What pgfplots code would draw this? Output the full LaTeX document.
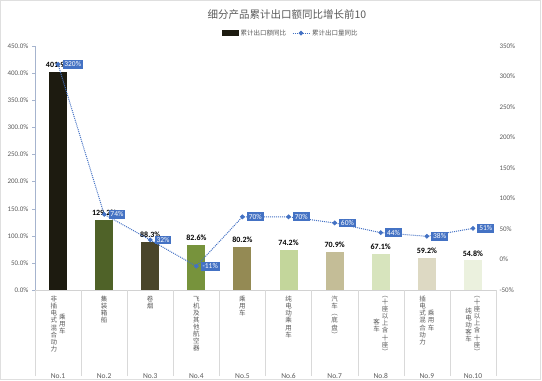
\documentclass[border=0pt]{standalone}
\usepackage{fontspec}
\setmainfont{Carlito}
\newfontfamily\cjk{Noto Sans CJK SC}
\usepackage{pgfplots}
\pgfplotsset{compat=1.18}

\definecolor{c1}{HTML}{1D1B10}
\definecolor{c2}{HTML}{4F6228}
\definecolor{c3}{HTML}{4A452A}
\definecolor{c4}{HTML}{77933C}
\definecolor{c5}{HTML}{948A54}
\definecolor{c6}{HTML}{C3D69B}
\definecolor{c7}{HTML}{C4BD97}
\definecolor{c8}{HTML}{D7E4BD}
\definecolor{c9}{HTML}{DDD9C3}
\definecolor{c10}{HTML}{EBF1DE}
\definecolor{lineblue}{HTML}{4472C4}
\definecolor{axblue}{HTML}{A6B4CE}
\definecolor{txtgray}{HTML}{595959}

\def\vcolA#1{\ifx\relax#1\else\hbox to 7pt{\hss#1\hss}\expandafter\vcolA\fi}
\protected\def\vcol#1{\vbox{\baselineskip=7.1pt\lineskiplimit=-20pt\lineskip=0pt\vcolA#1\relax}}
\protected\def\labA#1#2{\vbox to 82pt{\cjk\fontsize{6.5}{7}\selectfont\color{txtgray}\hbox to 40pt{\hss\vcol{#1}\hss}\vfill\hbox to 40pt{\hss\normalfont\fontsize{7.5}{8}\selectfont\color{txtgray}#2\hss}}}
\protected\def\labB#1#2#3{\vbox to 82pt{\cjk\fontsize{6.5}{7}\selectfont\color{txtgray}\hbox to 40pt{\hss$\vcenter{\vcol{#1}}$\kern1.5pt$\vcenter{\vcol{#2}}$\hss}\vfill\hbox to 40pt{\hss\normalfont\fontsize{7.5}{8}\selectfont\color{txtgray}#3\hss}}}

\begin{document}
\begin{tikzpicture}
\useasboundingbox (0,0) rectangle (542pt,381pt);
\draw[gray!25] (0.5pt,1.5pt) rectangle (540.5pt,380.5pt);
\node[font=\cjk\fontsize{10.5}{12}\selectfont, text=txtgray] at (287pt,366pt) {细分产品累计出口额同比增长前10};

\begin{axis}[
  at={(35pt,91pt)}, anchor=south west,
  scale only axis, width=461pt, height=244pt,
  xmin=0.5, xmax=10.5, ymin=0, ymax=450,
  axis lines*=left, axis line style={-},
  x axis line style={draw=gray!35},
  y axis line style={draw=axblue},
  ytick={0,50,...,450},
  yticklabel={\pgfmathprintnumber[fixed,fixed zerofill,precision=1]{\tick}\%},
  yticklabel style={font=\fontsize{7}{8}\selectfont, text=txtgray, /pgf/number format/assume math mode=true},
  tick align=outside, major tick length=3pt,
  ytick style={draw=axblue},
  xtick={1,...,10},
  xtick style={draw=none},
  xticklabel style={anchor=north, inner sep=0pt, yshift=-3pt},
  xticklabels={
    {\labB{非插电式混合动力}{乘用车}{No.1}},
    {\labA{集装箱船}{No.2}},
    {\labA{卷烟}{No.3}},
    {\labA{飞机及其他航空器}{No.4}},
    {\labA{乘用车}{No.5}},
    {\labA{纯电动乘用车}{No.6}},
    {\labA{汽车︵底盘︶}{No.7}},
    {\labB{客车}{︵十座以上含十座︶}{No.8}},
    {\labB{插电式混合动力}{乘用车}{No.9}},
    {\labB{纯电动客车}{︵十座以上含十座︶}{No.10}}},
  extra x ticks={0.5,1.5,...,10.5},
  extra x tick labels={},
  extra x tick style={major tick length=86pt, tick align=outside, xtick style={draw=gray!30, thin}},
  nodes near coords, point meta=explicit symbolic,
  nodes near coords style={font=\bfseries\fontsize{8}{9}\selectfont, text=black, inner sep=0pt, yshift=4pt},
  clip=false,
]
\addplot[ybar, bar width=18pt, bar shift=0pt, fill=c1, draw=none] coordinates {(1,401.9) [401.9\%]};
\addplot[ybar, bar width=18pt, bar shift=0pt, fill=c2, draw=none] coordinates {(2,129.2) [129.2\%]};
\addplot[ybar, bar width=18pt, bar shift=0pt, fill=c3, draw=none] coordinates {(3,88.3) [88.3\%]};
\addplot[ybar, bar width=18pt, bar shift=0pt, fill=c4, draw=none] coordinates {(4,82.6) [82.6\%]};
\addplot[ybar, bar width=18pt, bar shift=0pt, fill=c5, draw=none] coordinates {(5,80.2) [80.2\%]};
\addplot[ybar, bar width=18pt, bar shift=0pt, fill=c6, draw=none] coordinates {(6,74.2) [74.2\%]};
\addplot[ybar, bar width=18pt, bar shift=0pt, fill=c7, draw=none] coordinates {(7,70.9) [70.9\%]};
\addplot[ybar, bar width=18pt, bar shift=0pt, fill=c8, draw=none] coordinates {(8,67.1) [67.1\%]};
\addplot[ybar, bar width=18pt, bar shift=0pt, fill=c9, draw=none] coordinates {(9,59.2) [59.2\%]};
\addplot[ybar, bar width=18pt, bar shift=0pt, fill=c10, draw=none] coordinates {(10,54.8) [54.8\%]};
\end{axis}

\begin{axis}[
  at={(35pt,91pt)}, anchor=south west,
  scale only axis, width=461pt, height=244pt,
  xmin=0.5, xmax=10.5, ymin=-50, ymax=350,
  axis x line=none, axis y line*=right,
  y axis line style={draw=none},
  ytick={-50,0,...,350},
  yticklabel={\pgfmathprintnumber{\tick}\%},
  ytick style={draw=none},
  yticklabel style={font=\fontsize{7}{8}\selectfont, text=txtgray, /pgf/number format/assume math mode=true},
  clip=false,
  legend columns=2,
  legend style={at={(0.555,1.053)}, anchor=center, draw=none, fill=none,
    font=\cjk\fontsize{6.5}{7}\selectfont, text=txtgray,
    /tikz/every even column/.append style={column sep=4pt}},
]
\addlegendimage{legend image code/.code={\fill[c1] (0pt,-2.5pt) rectangle (16pt,2.5pt);}}
\addlegendentry{累计出口额同比}
\addplot[lineblue, densely dotted, line width=1pt, mark=*, mark size=1.8pt,
  mark options={solid, fill=lineblue},
  nodes near coords, point meta=explicit symbolic,
  nodes near coords style={anchor=west, fill=lineblue, text=white, solid,
    font=\fontsize{7.5}{8}\selectfont, inner sep=1.8pt, xshift=4pt}]
  coordinates {(1,320)[320\%] (2,74)[74\%] (3,32)[32\%] (4,-11)[-11\%] (5,70)[70\%]
               (6,70)[70\%] (7,60)[60\%] (8,44)[44\%] (9,38)[38\%] (10,51)[51\%]};
\addlegendentry{累计出口量同比}
\end{axis}
\end{tikzpicture}
\end{document}
